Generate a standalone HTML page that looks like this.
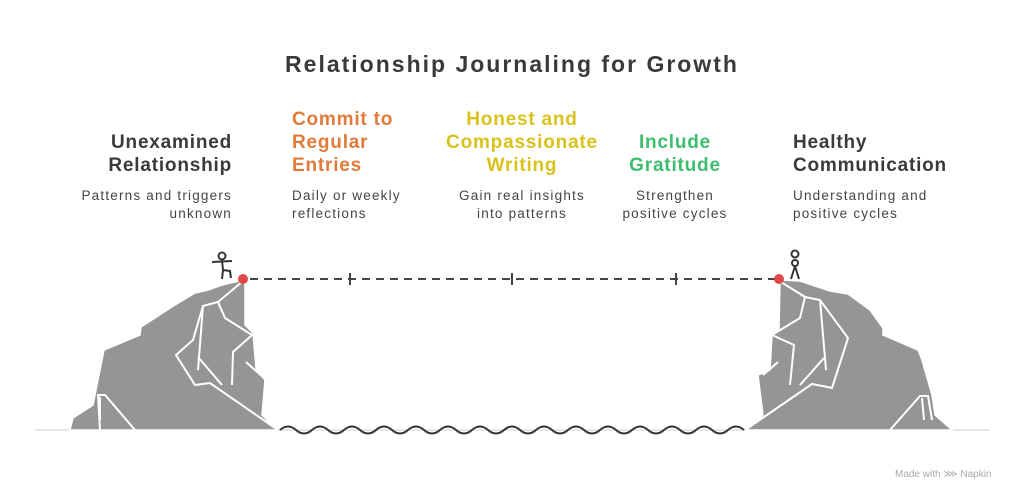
<!DOCTYPE html>
<html><head><meta charset="utf-8"><style>
body{margin:0;background:#fff;width:1024px;height:501px;overflow:hidden;position:relative;font-family:"Liberation Sans",sans-serif}
.t{position:absolute;font-weight:bold;font-size:19px;line-height:23px;color:#3a3a3a;letter-spacing:0.8px}
.d{position:absolute;font-size:13.5px;line-height:18px;color:#444;letter-spacing:1.2px}
.c{text-align:center}.r{text-align:right}
</style></head><body>
<div class="t c" style="left:0;width:1024px;top:53px;font-size:23px;letter-spacing:2px">Relationship Journaling for Growth</div>
<div class="t r" style="left:40px;width:192px;top:131px">Unexamined<br>Relationship</div>
<div class="d r" style="left:40px;width:192px;top:187px">Patterns and triggers<br>unknown</div>
<div class="t" style="left:292px;top:108px;color:#e07b39">Commit to<br>Regular<br>Entries</div>
<div class="d" style="left:292px;top:187px">Daily or weekly<br>reflections</div>
<div class="t c" style="left:422px;width:200px;top:108px;color:#d9c21b">Honest and<br>Compassionate<br>Writing</div>
<div class="d c" style="left:422px;width:200px;top:187px">Gain real insights<br>into patterns</div>
<div class="t c" style="left:605px;width:140px;top:131px;color:#3dbd6e">Include<br>Gratitude</div>
<div class="d c" style="left:605px;width:140px;top:187px">Strengthen<br>positive cycles</div>
<div class="t" style="left:793px;top:131px">Healthy<br>Communication</div>
<div class="d" style="left:793px;top:187px">Understanding and<br>positive cycles</div>
<div class="d" style="left:895px;top:466px;font-size:10px;color:#aaa;letter-spacing:0">Made with ⋙ Napkin</div>
<svg width="1024" height="501" style="position:absolute;left:0;top:0">
<line x1="35" y1="430" x2="990" y2="430" stroke="#ddd" stroke-width="1.5"/>
<line x1="250" y1="279" x2="775" y2="279" stroke="#444" stroke-width="2" stroke-dasharray="8,6"/>
<g stroke="#444" stroke-width="2"><line x1="350" y1="273" x2="350" y2="285"/><line x1="512" y1="273" x2="512" y2="285"/><line x1="676" y1="273" x2="676" y2="285"/></g>
<path d="M280 430 q8 -7 16 0 t16 0 t16 0 t16 0 t16 0 t16 0 t16 0 t16 0 t16 0 t16 0 t16 0 t16 0 t16 0 t16 0 t16 0 t16 0 t16 0 t16 0 t16 0 t16 0 t16 0 t16 0 t16 0 t16 0 t16 0 t16 0 t16 0 t16 0 t16 0" fill="none" stroke="#333" stroke-width="2"/>
<polygon points="70,430 73,418 93,405 104,350 140,335 141,327 175,305 195,293 208,290 222,285 243,280 245,285 245,325 253,333 256,368 265,380 262,415 277,430" fill="#959595" stroke="#fff" stroke-width="1.5"/>
<g stroke="#fff" stroke-width="2" fill="none"><path d="M243,281 L218,302 L203,306 L193,340 L176,355 L195,385 L210,383 L275,428"/><path d="M218,302 L225,318 L252,335 L233,352 L232,385"/><path d="M203,306 L198,370"/><path d="M198,357 L222,385"/><path d="M246,362 L264,378"/><path d="M100,430 L98,395 L105,395 L135,430"/><path d="M100,397 L100,420"/></g>
<polygon points="780,280 800,281 830,291 848,294 870,310 883,328 883,335 918,350 922,360 932,395 935,415 952,430 746,430 763,415 758,375 770,370 772,335 779,330" fill="#959595" stroke="#fff" stroke-width="1.5"/>
<g stroke="#fff" stroke-width="2" fill="none"><path d="M781,282 L805,297 L820,300 L848,338 L832,388 L812,384 L748,428"/><path d="M805,297 L800,318 L772,335 L794,345 L790,385"/><path d="M820,300 L826,370"/><path d="M824,358 L800,385"/><path d="M778,362 L763,375"/><path d="M890,430 L920,396 L928,396 L932,420"/><path d="M922,398 L924,420"/></g>
<circle cx="243" cy="279" r="5" fill="#e04848"/><circle cx="779" cy="279" r="5" fill="#e04848"/>
<g stroke="#333" stroke-width="2" fill="none"><circle cx="222" cy="256" r="3.5" fill="#fff"/><line x1="222" y1="260" x2="223" y2="270"/><line x1="212" y1="262" x2="232" y2="261"/><path d="M223,270 L222,279 M223,270 L230,271 L231,278"/></g>
<g stroke="#333" stroke-width="2" fill="none"><circle cx="795" cy="254" r="3.5" fill="#fff"/><circle cx="795" cy="263" r="3" /><path d="M795,266 L791,279 M795,266 L799,279"/></g>
</svg>
</body></html>
